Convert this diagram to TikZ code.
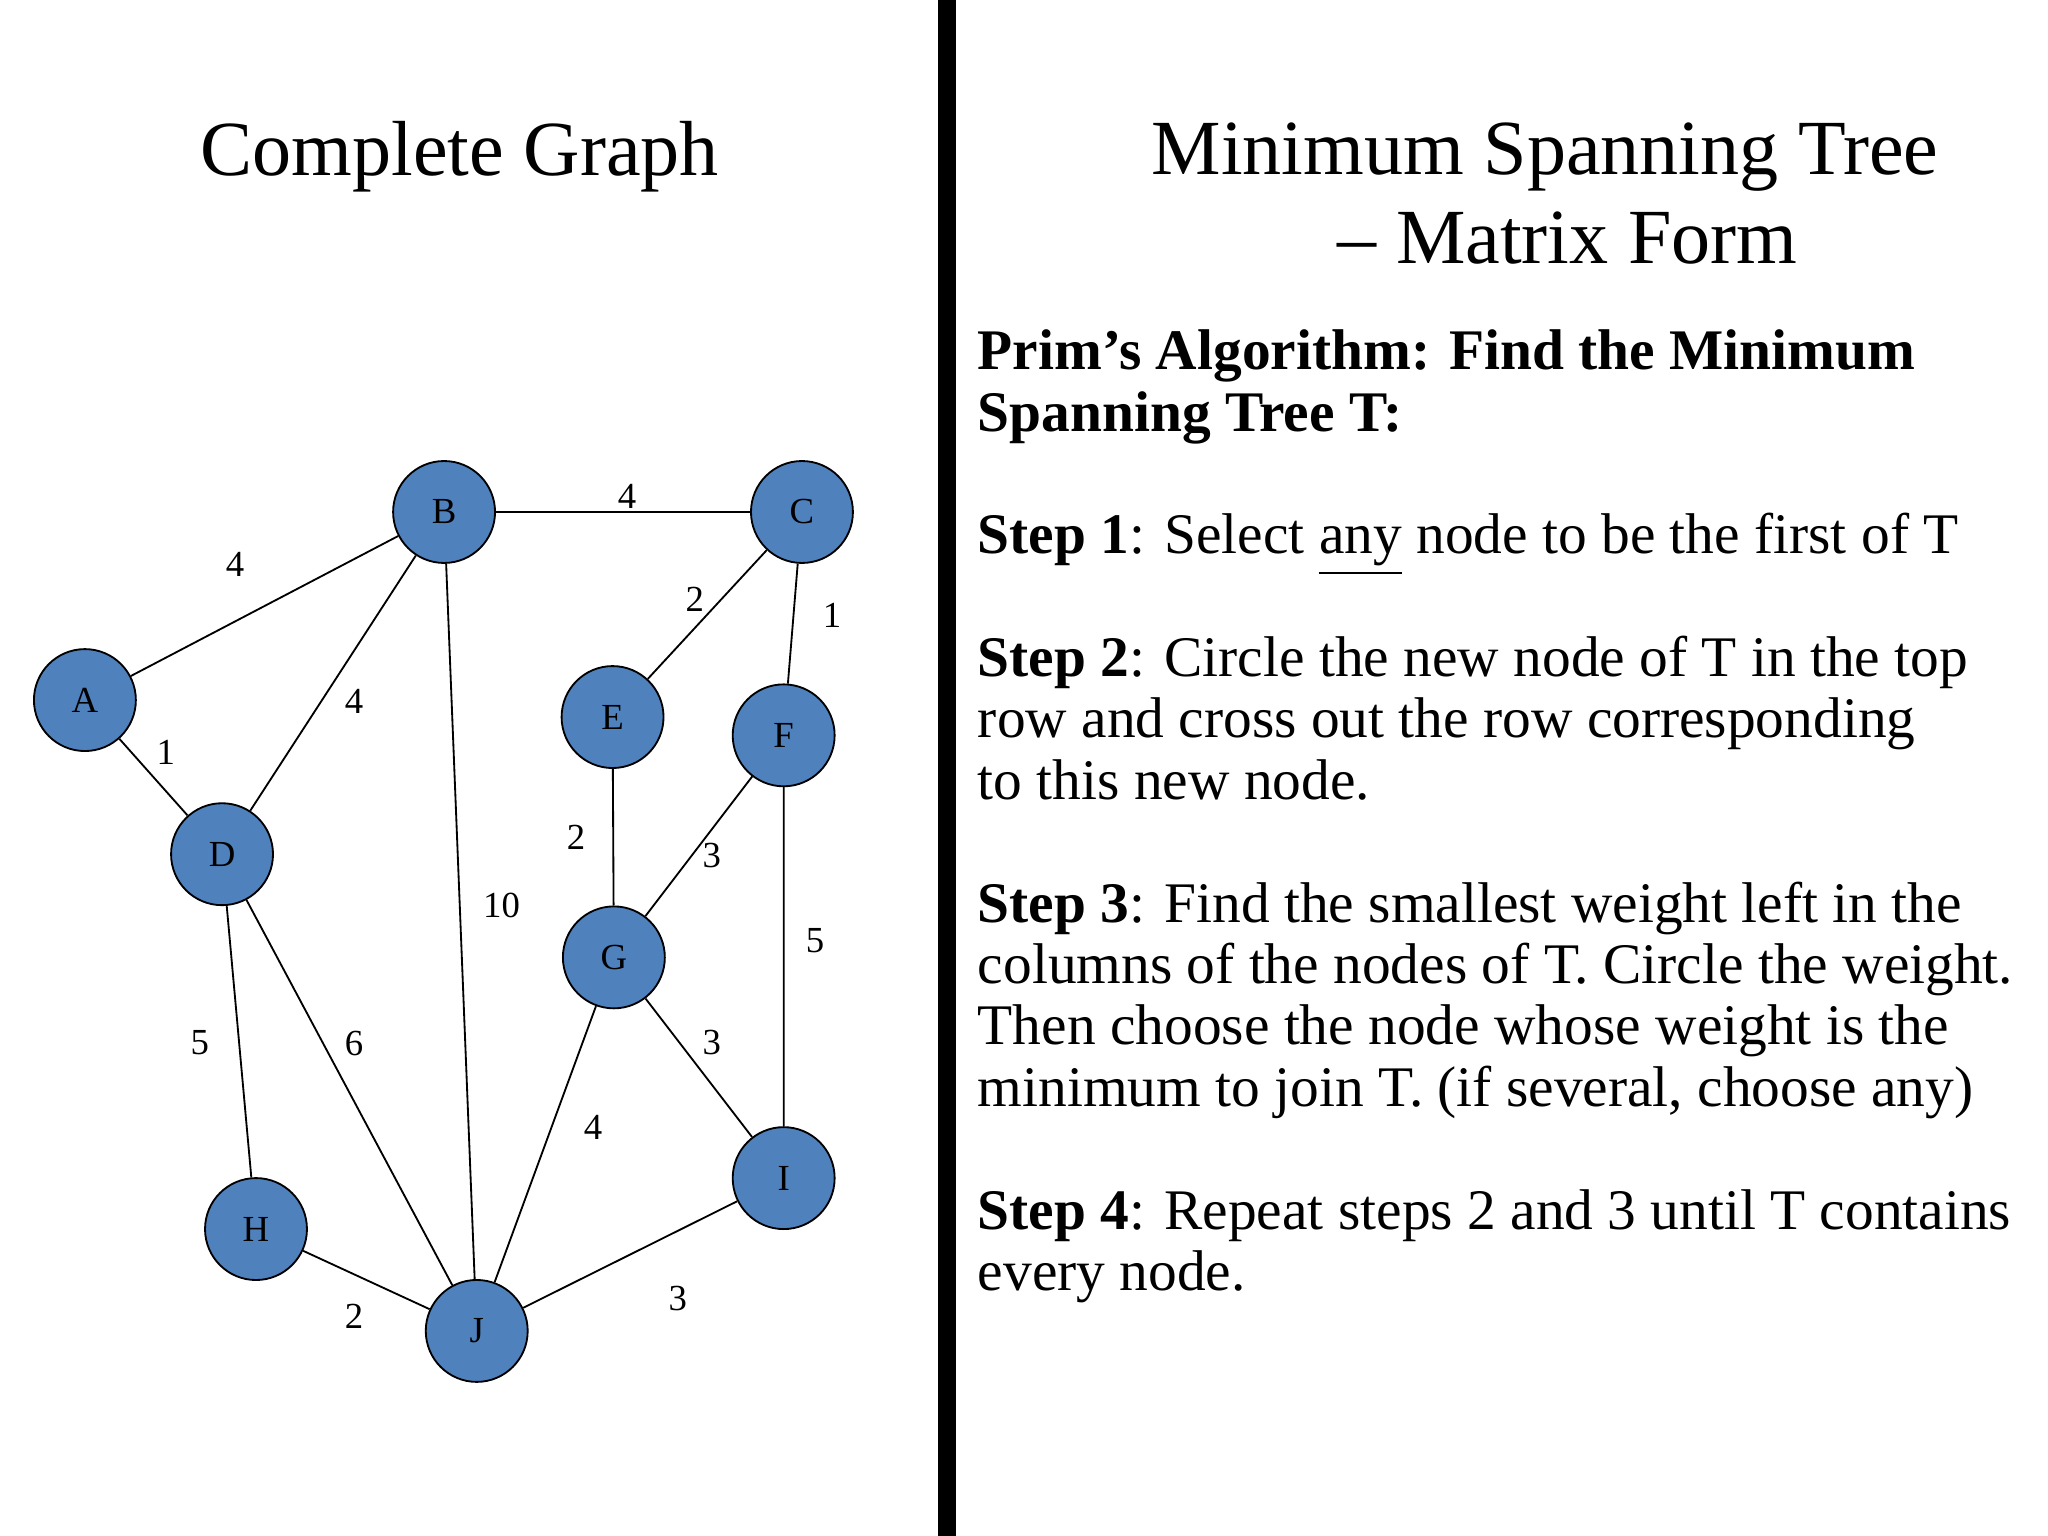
\documentclass[tikz,border=0pt]{standalone}
\usepackage{fontspec}
\setmainfont{Liberation Serif}
\definecolor{nodeblue}{HTML}{4F81BD}
\begin{document}
\begin{tikzpicture}[x=0.01cm,y=-0.01cm,
  vert/.style={circle,draw=black,fill=nodeblue,minimum size=0.78cm,inner sep=0pt,font=\fontsize{8}{9}\selectfont},
  wl/.style={font=\fontsize{8}{9}\selectfont,inner sep=0pt},
  line/.style={draw=black,line width=0.4pt},
  body/.style={anchor=base west,inner sep=0pt,font=\fontsize{12.5}{15}\selectfont},
  ttl/.style={font=\fontsize{17}{20}\selectfont,inner sep=0pt}]
\useasboundingbox (0,0) rectangle (1568,1176);
\fill[black] (718,0) rectangle (732,1176);
\node[ttl] (t1) at (352,120) {Complete Graph};
\node[ttl] (t2) at (1183,120) {Minimum Spanning Tree};
\node[ttl] (t3) at (1200,182) {– Matrix Form};
\node[vert] (A) at (65,536) {A};
\node[vert] (B) at (340,392) {B};
\node[vert] (C) at (614,392) {C};
\node[vert] (D) at (170,654) {D};
\node[vert] (E) at (469,549) {E};
\node[vert] (F) at (600,563) {F};
\node[vert] (G) at (470,733) {G};
\node[vert] (H) at (196,941) {H};
\node[vert] (I) at (600,902) {I};
\node[vert] (J) at (365,1019) {J};
\draw[line] (A)--(B) (B)--(C) (C)--(E) (C)--(F) (A)--(D) (B)--(D) (B)--(J) (E)--(G)
  (F)--(G) (F)--(I) (D)--(H) (D)--(J) (G)--(I) (G)--(J) (H)--(J) (J)--(I);
\node[wl] (w1) at (180,432) {4};
\node[wl] (w2) at (480,380) {4};
\node[wl] (w3) at (532,459) {2};
\node[wl] (w4) at (637,471) {1};
\node[wl] (w5) at (127,576) {1};
\node[wl] (w6) at (271,537) {4};
\node[wl] (w7) at (384,693) {10};
\node[wl] (w8) at (441,641) {2};
\node[wl] (w9) at (545,655) {3};
\node[wl] (w10) at (624,720) {5};
\node[wl] (w11) at (153,798) {5};
\node[wl] (w12) at (271,799) {6};
\node[wl] (w13) at (545,798) {3};
\node[wl] (w14) at (454,863) {4};
\node[wl] (w15) at (271,1008) {2};
\node[wl] (w16) at (519,994) {3};
\node[body] (l1) at (748,283) {\textbf{Prim’s Algorithm: Find the Minimum}};
\node[body] (l2) at (748,330) {\textbf{Spanning Tree T:}};
\node[body] (l3) at (748,424) {\textbf{Step 1}: Select \underline{any} node to be the first of T};
\node[body] (l4) at (748,518) {\textbf{Step 2}: Circle the new node of T in the top};
\node[body] (l5) at (748,565) {row and cross out the row corresponding};
\node[body] (l6) at (748,612) {to this new node.};
\node[body] (l7) at (748,706) {\textbf{Step 3}: Find the smallest weight left in the};
\node[body] (l8) at (748,753) {columns of the nodes of T. Circle the weight.};
\node[body] (l9) at (748,800) {Then choose the node whose weight is the};
\node[body] (l10) at (748,847) {minimum to join T. (if several, choose any)};
\node[body] (l11) at (748,941) {\textbf{Step 4}: Repeat steps 2 and 3 until T contains};
\node[body] (l12) at (748,988) {every node.};
\end{tikzpicture}
\end{document}
